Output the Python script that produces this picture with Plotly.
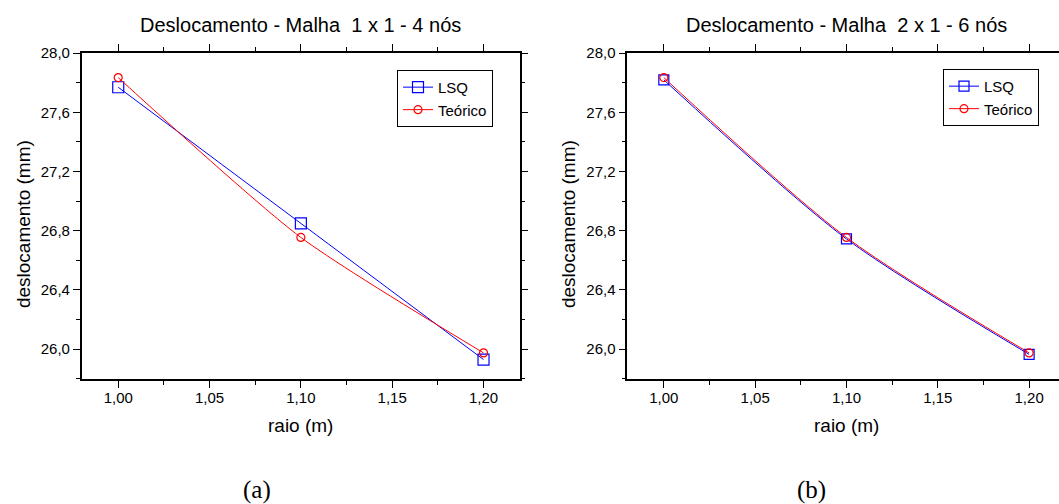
import plotly.graph_objects as go

# ---- data ----
raio = [1.00, 1.10, 1.20]
lsq_a = [27.77, 26.85, 25.93]
teorico_a = [27.835, 26.755, 25.975]
lsq_b = [27.82, 26.745, 25.965]
teorico_b = [27.835, 26.755, 25.975]

titles = ["Deslocamento - Malha\u00a0 1 x 1 - 4 nós", "Deslocamento - Malha\u00a0 2 x 1 - 6 nós"]
panel_labels = ["(a)", "(b)"]
x_title = "raio (m)"
y_title = "deslocamento (mm)"

W, H = 1059, 504
BLUE = "#0000ff"
RED = "#ff0000"
FONT = "Liberation Sans, Arial, sans-serif"

fig = go.Figure()

# panel (a)
fig.add_trace(go.Scatter(x=raio, y=lsq_a, name="LSQ", mode="lines+markers",
                         line=dict(color=BLUE, width=1),
                         marker=dict(symbol="square-open", size=11, color=BLUE, line=dict(width=1.2)),
                         xaxis="x", yaxis="y", legend="legend"))
fig.add_trace(go.Scatter(x=raio, y=teorico_a, name="Teórico", mode="lines+markers",
                         line=dict(color=RED, width=1, shape="spline", smoothing=0.65),
                         marker=dict(symbol="circle-open", size=8, color=RED, line=dict(width=1.2)),
                         xaxis="x", yaxis="y", legend="legend"))
# panel (b)
fig.add_trace(go.Scatter(x=raio, y=lsq_b, name="LSQ", mode="lines+markers",
                         line=dict(color=BLUE, width=1, shape="spline", smoothing=0.8),
                         marker=dict(symbol="square-open", size=10, color=BLUE, line=dict(width=1.2)),
                         xaxis="x2", yaxis="y2", legend="legend2"))
fig.add_trace(go.Scatter(x=raio, y=teorico_b, name="Teórico", mode="lines+markers",
                         line=dict(color=RED, width=1, shape="spline", smoothing=0.8),
                         marker=dict(symbol="circle-open", size=8, color=RED, line=dict(width=1.2)),
                         xaxis="x2", yaxis="y2", legend="legend2"))

# geometry (pixels)
left_a, right_a = 81.7, 519.5
left_b = 627.3
top, bottom = 45, 376.5
ydom = [(H - bottom) / H, (H - top) / H]

def xaxis(domain, rng):
    return dict(domain=domain, range=rng, showgrid=False, zeroline=False,
                showline=True, linecolor="black", linewidth=1.5, mirror="allticks",
                ticks="outside", ticklen=7, tickwidth=1.2, tickcolor="black",
                tick0=1.0, dtick=0.05, tickformat=".2f", ticklabelstandoff=-3,
                minor=dict(ticks="outside", ticklen=4, tickwidth=1.2, tickcolor="black", dtick=0.025),
                tickfont=dict(family=FONT, size=15, color="black"))

def yaxis(anchor, mirror):
    return dict(domain=ydom, range=[25.8, 28.0], anchor=anchor, showgrid=False, zeroline=False,
                showline=True, linecolor="black", linewidth=1.5, mirror=mirror,
                ticks="outside", ticklen=7, tickwidth=1.2, tickcolor="black",
                tick0=26.0, dtick=0.4, tickformat=".1f",
                minor=dict(ticks="outside", ticklen=4, tickwidth=1.2, tickcolor="black", dtick=0.2),
                tickfont=dict(family=FONT, size=15, color="black"))

xr_a = [0.98, 1.2197]
xr_b = [0.98, 0.98 + (W - left_b) / (right_a - left_a) * (xr_a[1] - xr_a[0])]

fig.update_layout(
    width=W, height=H,
    margin=dict(l=0, r=0, t=0, b=0),
    paper_bgcolor="white", plot_bgcolor="white",
    separators=",.",
    font=dict(family=FONT, color="black"),
    xaxis=xaxis([left_a / W, right_a / W], xr_a) | dict(anchor="y"),
    yaxis=yaxis("x", "allticks"),
    xaxis2=xaxis([left_b / W, 1.0], xr_b) | dict(anchor="y2"),
    yaxis2=yaxis("x2", False),
    legend=dict(x=493 / W, y=(H - 62) / H, xanchor="right", yanchor="top",
                bgcolor="white", bordercolor="black", borderwidth=1,
                font=dict(family=FONT, size=15, color="black"),
                itemwidth=30, tracegroupgap=0),
    legend2=dict(x=1039 / W, y=(H - 61) / H, xanchor="right", yanchor="top",
                 bgcolor="white", bordercolor="black", borderwidth=1,
                 font=dict(family=FONT, size=15, color="black"),
                 itemwidth=30, tracegroupgap=0),
    showlegend=True,
)

annotations = []
centers = [(left_a + right_a) / 2, (left_b + left_b + (right_a - left_a)) / 2]
ytitle_x = [23, 568]
label_x = [257, 811]
for i in range(2):
    cx = centers[i]
    annotations.append(dict(text=titles[i], x=cx / W, y=(H - 16) / H, xref="paper", yref="paper",
                            showarrow=False, xanchor="center", yanchor="middle",
                            font=dict(family=FONT, size=20, color="black")))
    annotations.append(dict(text=x_title, x=cx / W, y=(H - 424) / H, xref="paper", yref="paper",
                            showarrow=False, xanchor="center", yanchor="middle",
                            font=dict(family=FONT, size=19, color="black")))
    annotations.append(dict(text=y_title, x=ytitle_x[i] / W, y=(H - 219) / H,
                            xref="paper", yref="paper", textangle=-90,
                            showarrow=False, xanchor="center", yanchor="middle",
                            font=dict(family=FONT, size=19, color="black")))
    annotations.append(dict(text=panel_labels[i], x=label_x[i] / W, y=(H - 490) / H,
                            xref="paper", yref="paper",
                            showarrow=False, xanchor="center", yanchor="middle",
                            font=dict(family="Liberation Serif, Times New Roman, serif", size=25, color="black")))
fig.update_layout(annotations=annotations)

post = ("var s=document.documentElement.style;s.margin='0';s.padding='0';s.overflow='hidden';"
        "s.height='504px';"
        "var b=document.body.style;b.margin='0';b.padding='0';b.overflow='hidden';b.height='504px';"
        "var d=document.getElementById('{plot_id}');d.style.position='absolute';"
        "d.style.left='0px';d.style.top='0px';")
fig.write_html("out.html", post_script=post, config={"displayModeBar": False})
